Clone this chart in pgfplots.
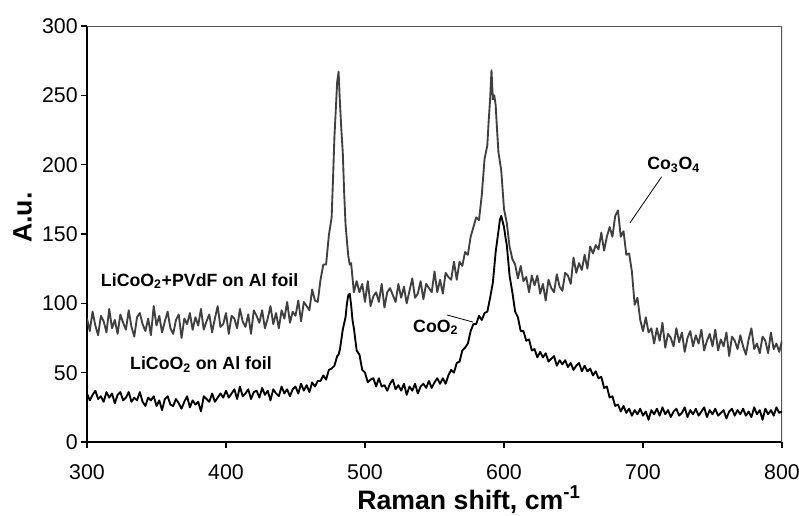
\documentclass[border=0pt]{standalone}
\usepackage{fontspec}
\setmainfont{Liberation Sans}
\usepackage{pgfplots}
\pgfplotsset{compat=1.18}
\usepackage{pgfplotstable}

\definecolor{specgrey}{HTML}{404040}
\definecolor{framegrey}{HTML}{555555}

% Raman spectrum, LiCoO2 + PVdF on Al foil
\pgfplotstableread{
x y
300 89
302 80
304 94
306 84
308 77
310 91
312 87
314 79
316 96
318 82
320 88
322 78
324 92
326 86
328 81
330 95
332 83
334 76
336 90
338 93
340 85
342 80
344 89
346 77
348 98
350 84
352 91
354 79
356 87
358 94
360 82
362 78
364 88
366 92
368 75
370 89
372 85
374 93
376 81
378 90
380 84
382 96
384 81
386 87
388 92
390 79
392 89
394 98
396 83
398 85
400 93
402 78
404 91
406 89
408 82
410 96
412 87
414 83
416 92
418 78
420 95
422 91
424 86
426 95
428 82
430 89
432 98
434 85
436 93
438 82
440 95
442 89
444 101
446 86
448 94
450 91
452 102
454 87
456 101
458 98
460 95
462 110
464 102
466 101
468 117
470 128
472 128
474 149
476 162
477 190
478 220
479 240
480 260
481 267
482 244
483 225
484 209
485 180
486 157
487 145
488 134
489 128
490 129
492 108
494 116
496 108
498 114
500 101
502 116
504 98
506 105
508 108
510 101
512 114
514 97
516 108
518 111
520 106
522 101
524 114
526 104
528 112
530 100
532 109
534 118
536 104
538 107
540 116
542 103
544 114
546 111
548 108
550 123
552 108
554 117
556 107
558 122
560 119
562 117
564 130
566 117
568 130
570 127
572 137
574 135
576 148
578 155
580 162
582 160
584 178
586 204
588 214
589 232
590 247
591 268
592 247
593 250
594 243
595 225
596 209
598 196
600 168
602 158
604 141
606 132
608 128
610 118
612 127
614 116
616 119
618 108
620 120
622 113
624 120
626 107
628 114
630 102
632 117
634 111
636 108
638 121
640 112
642 109
644 122
646 120
648 114
650 133
652 122
654 129
656 124
658 135
660 125
662 141
664 136
666 142
668 139
670 151
672 138
674 148
676 155
678 148
680 163
682 167
684 148
686 152
688 135
690 136
692 123
694 99
696 104
698 88
700 80
702 90
704 79
706 82
708 71
710 82
712 73
714 86
716 68
718 78
720 75
722 69
724 82
726 72
728 79
730 65
732 75
734 80
736 69
738 77
740 71
742 81
744 66
746 73
748 78
750 69
752 81
754 66
756 74
758 69
760 79
762 62
764 76
766 73
768 67
770 77
772 69
774 63
776 74
778 82
780 67
782 71
784 64
786 76
788 73
790 64
792 79
794 67
796 71
798 65
800 73
}\pvdf

% Raman spectrum, LiCoO2 on Al foil
\pgfplotstableread{
x y
300 35
302 30
304 34
306 37
308 31
310 33
312 29
314 36
316 32
318 35
320 28
322 34
324 36
326 30
328 32
330 36
332 29
334 32
336 30
338 36
340 29
342 26
344 32
346 30
348 33
350 26
352 30
354 23
356 31
358 33
360 27
362 26
364 31
366 28
368 24
370 29
372 33
374 25
376 30
378 27
380 29
382 22
384 33
386 31
388 29
390 35
392 29
394 32
396 35
398 32
400 37
402 32
404 35
406 38
408 31
410 40
412 33
414 35
416 38
418 31
420 36
422 37
424 32
426 39
428 34
430 37
432 30
434 38
436 35
438 33
440 40
442 35
444 38
446 33
448 38
450 40
452 35
454 42
456 37
458 41
460 36
462 43
464 40
466 44
468 44
470 48
472 45
474 52
476 53
478 55
480 62
481 63
482 67
484 81
486 90
487 100
488 106
489 107
490 99
491 88
492 82
494 66
496 63
498 52
500 50
502 43
504 45
506 46
508 40
510 46
512 40
514 41
516 37
518 42
520 45
522 38
524 41
526 37
528 42
530 34
532 40
534 37
536 42
538 35
540 40
542 42
544 39
546 44
548 39
550 43
552 46
554 42
556 46
558 42
560 48
562 52
564 50
566 57
568 58
570 66
572 68
574 71
576 80
578 85
580 85
582 91
584 88
586 93
588 94
590 104
592 115
594 137
596 152
597 160
598 163
599 159
600 155
601 148
602 142
604 120
606 108
608 94
610 90
612 80
614 80
616 73
618 74
620 66
622 67
624 61
626 65
628 61
630 64
632 58
634 60
636 62
638 55
640 59
642 56
644 59
646 54
648 57
650 52
652 55
654 57
656 51
658 55
660 51
662 53
664 48
666 51
668 46
670 47
672 39
674 40
676 32
678 33
680 26
682 27
684 22
686 26
688 21
690 24
692 19
694 23
696 20
698 24
700 19
702 22
704 16
706 23
708 20
710 24
712 19
714 25
716 20
718 23
720 18
722 22
724 24
726 19
728 21
730 25
732 18
734 23
736 20
738 24
740 19
742 22
744 25
746 18
748 23
750 20
752 24
754 19
756 21
758 23
760 17
762 22
764 24
766 19
768 23
770 20
772 24
774 19
776 22
778 18
780 25
782 20
784 23
786 16
788 24
790 20
792 23
794 19
796 25
798 21
800 22
}\bare

\begin{document}
\begin{tikzpicture}
\path[use as bounding box] (0,0) rectangle (599.25pt,386.25pt);
\begin{axis}[
  at={(65.25pt,54.75pt)}, anchor=south west,
  scale only axis, width=521.25pt, height=312pt,
  xmin=300, xmax=800, ymin=0, ymax=300,
  xtick={300,400,...,800}, ytick={0,50,...,300},
  axis x line*=bottom, axis y line*=left,
  axis line style={line width=1.1pt, black},
  tick align=outside, major tick length=4.5pt,
  tick style={line width=1.1pt, black},
  ticklabel style={font=\fontsize{16}{18}\selectfont},
  xticklabel style={yshift=-9pt},
  yticklabel style={xshift=1pt},
  /pgf/number format/assume math mode=true,
]
% upper and right frame edges
\draw[framegrey, line width=1.1pt] (rel axis cs:0,1) -- (rel axis cs:1,1) -- (rel axis cs:1,0);

\addplot[specgrey, line width=1.4pt, line join=round] table[x=x, y=y] {\pvdf};
\addplot[black, line width=1.4pt, line join=round] table[x=x, y=y] {\bare};

\node[anchor=base, font=\bfseries\fontsize{13.3}{15}\selectfont] at (axis cs:381,112.5) {LiCoO\textsubscript{2}+PVdF on Al foil};
\node[anchor=base, font=\bfseries\fontsize{13.3}{15}\selectfont] at (axis cs:382,52.3) {LiCoO\textsubscript{2} on Al foil};
\node[anchor=base west, inner sep=0pt, font=\bfseries\fontsize{13.3}{15}\selectfont] at (axis cs:534.5,79.3) {CoO\textsubscript{2}};
\draw[black, line width=0.6pt] (axis cs:559,91.6) -- (axis cs:577.7,86.5);
\node[anchor=base west, inner sep=0pt, font=\bfseries\fontsize{13.3}{15}\selectfont] at (axis cs:702.9,196.2) {Co\textsubscript{3}O\textsubscript{4}};
\draw[black, line width=0.6pt] (axis cs:713.4,191.3) -- (axis cs:690.6,158);
\end{axis}
\node[anchor=base, font=\bfseries\fontsize{20}{24}\selectfont] at (351.75pt,4.5pt) {Raman shift, cm\textsuperscript{-1}};
\node[anchor=base, rotate=90, font=\bfseries\fontsize{20}{24}\selectfont] at (23.8pt,223.1pt) {A.u.};
\end{tikzpicture}
\end{document}
